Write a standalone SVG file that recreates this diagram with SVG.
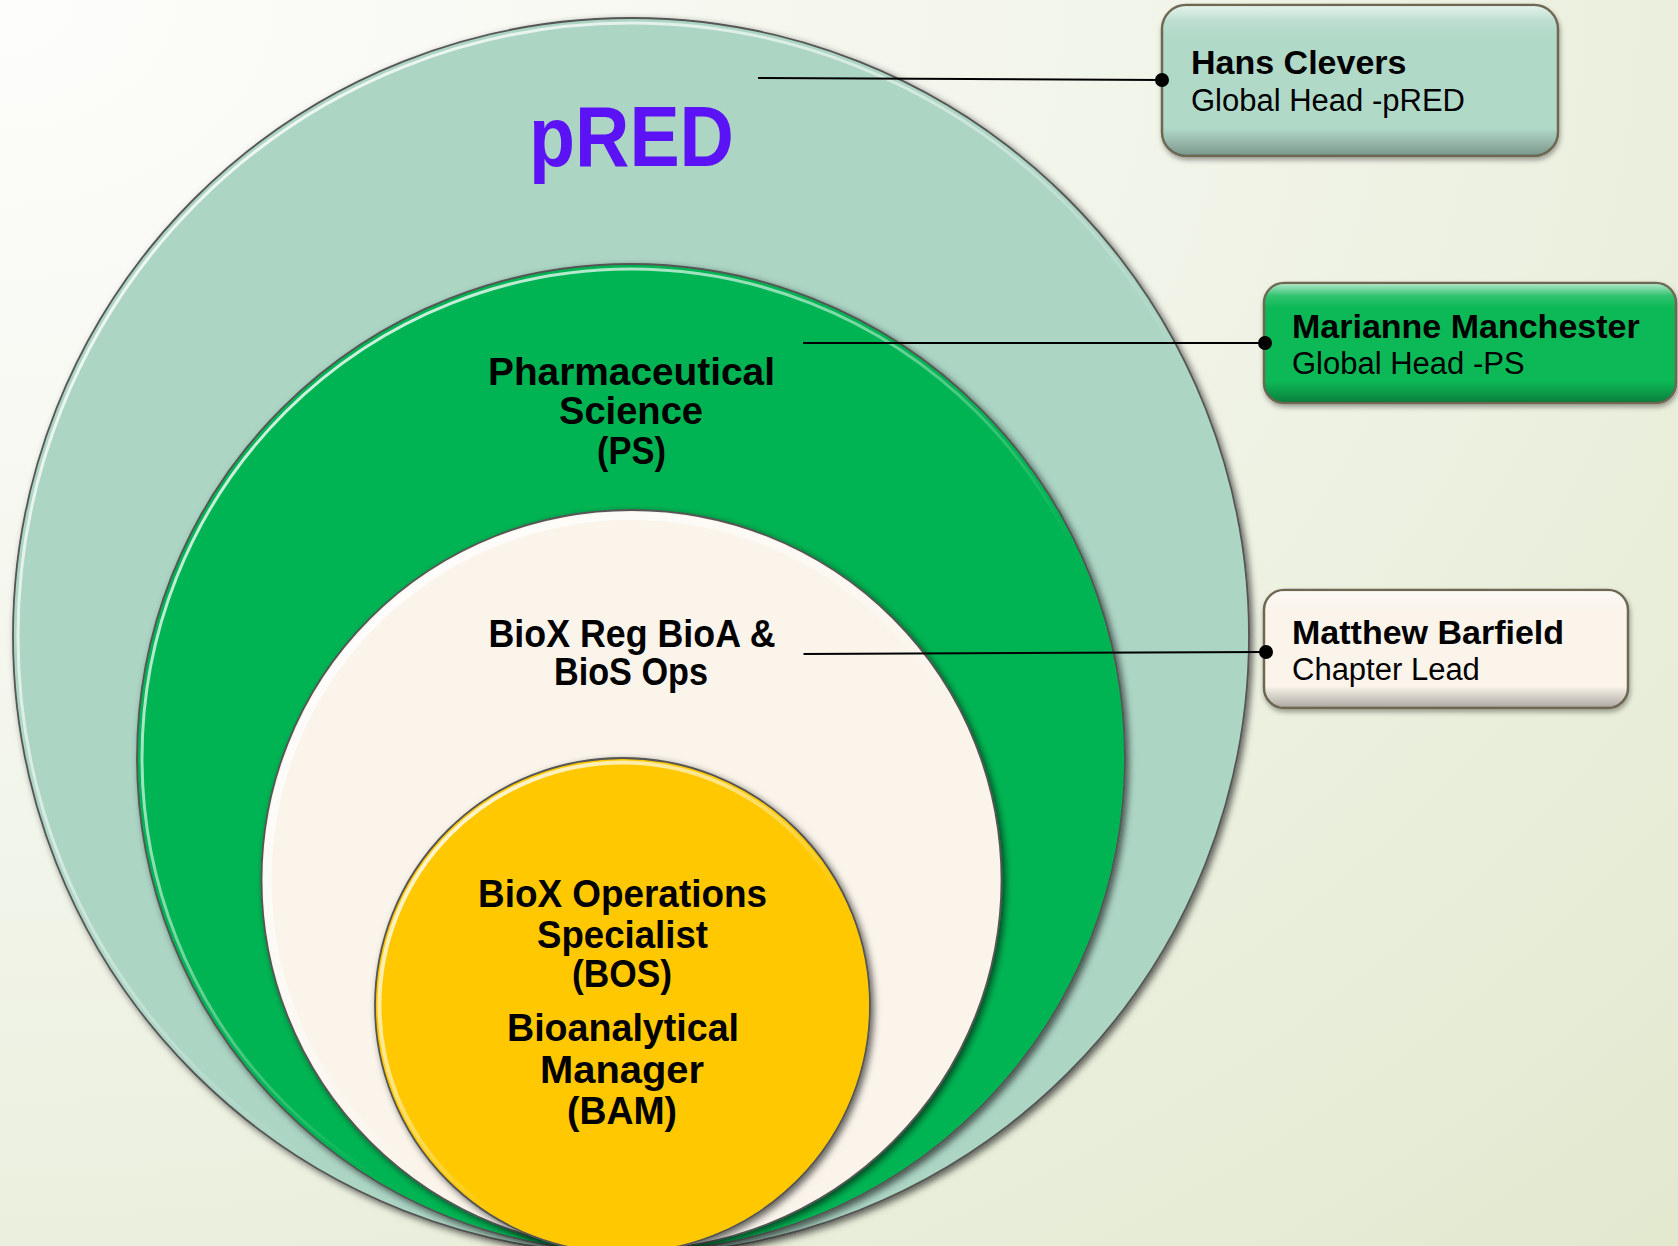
<svg xmlns="http://www.w3.org/2000/svg" width="1678" height="1246" viewBox="0 0 1678 1246">
  <defs>
    <radialGradient id="bg" cx="0" cy="0" r="1.45" gradientUnits="objectBoundingBox">
      <stop offset="0" stop-color="#fdfdfb"/>
      <stop offset="0.45" stop-color="#f2f5ea"/>
      <stop offset="1" stop-color="#e1e8cd"/>
    </radialGradient>
    <linearGradient id="rim" x1="0.1" y1="0.05" x2="0.6" y2="0.6">
      <stop offset="0" stop-color="#ffffff" stop-opacity="0.9"/>
      <stop offset="0.55" stop-color="#ffffff" stop-opacity="0.5"/>
      <stop offset="1" stop-color="#ffffff" stop-opacity="0"/>
    </linearGradient>
    <linearGradient id="bevel" x1="0" y1="0" x2="0" y2="1">
      <stop offset="0" stop-color="#ffffff" stop-opacity="0.65"/>
      <stop offset="0.1" stop-color="#ffffff" stop-opacity="0.15"/>
      <stop offset="0.2" stop-color="#ffffff" stop-opacity="0"/>
      <stop offset="0.82" stop-color="#000000" stop-opacity="0"/>
      <stop offset="1" stop-color="#000000" stop-opacity="0.3"/>
    </linearGradient>
    <filter id="shadow" x="-10%" y="-10%" width="125%" height="125%">
      <feDropShadow dx="3" dy="3" stdDeviation="3.5" flood-color="#000" flood-opacity="0.6"/>
    </filter>
    <filter id="bshadow" x="-10%" y="-10%" width="125%" height="135%">
      <feDropShadow dx="1" dy="3" stdDeviation="2.5" flood-color="#000" flood-opacity="0.35"/>
    </filter>
    <style>
      .ring { stroke: #555555; stroke-width: 1.8; filter: url(#shadow); }
      .hl { fill: none; stroke: url(#rim); }
      .ct { font-family: "Liberation Sans", Arial, sans-serif; font-weight: bold; font-size: 38px; fill: #000; text-anchor: middle; }
      .box { stroke: #6e6852; stroke-width: 2.5; filter: url(#bshadow); }
      .bev { fill: url(#bevel); stroke: none; }
      .bn { font-family: "Liberation Sans", Arial, sans-serif; font-weight: bold; font-size: 34px; fill: #000; }
      .br { font-family: "Liberation Sans", Arial, sans-serif; font-size: 31px; fill: #000; }
      .conn line { stroke: #000; stroke-width: 2; }
      .conn circle { fill: #000; }
    </style>
  </defs>

  <rect x="0" y="0" width="1678" height="1246" fill="url(#bg)"/>

  <g id="pred">
    <circle class="ring" cx="631" cy="636" r="618" fill="#acd5c4"/>
    <circle class="hl" cx="631" cy="636" r="613" stroke-width="3"/>
    <text x="631.5" y="166" font-family="'Liberation Sans', Arial, sans-serif" font-weight="bold" font-size="85" fill="#5b12f5" text-anchor="middle" textLength="205" lengthAdjust="spacingAndGlyphs">pRED</text>
  </g>

  <g id="ps">
    <circle class="ring" cx="631" cy="758" r="494" fill="#00b452"/>
    <circle class="hl" cx="631" cy="758" r="489" stroke-width="3"/>
    <text class="ct" x="631.5" y="385" textLength="287" lengthAdjust="spacingAndGlyphs">Pharmaceutical</text>
    <text class="ct" x="631" y="424" textLength="144" lengthAdjust="spacingAndGlyphs">Science</text>
    <text class="ct" x="631.5" y="464" textLength="69" lengthAdjust="spacingAndGlyphs">(PS)</text>
  </g>

  <g id="biox">
    <circle class="ring" cx="631.5" cy="880" r="370" fill="#faf4ea"/>
    <circle class="hl" cx="631.5" cy="880" r="364" stroke-width="8"/>
    <text class="ct" x="632" y="647" textLength="287" lengthAdjust="spacingAndGlyphs">BioX Reg BioA &amp;</text>
    <text class="ct" x="631" y="685" textLength="154" lengthAdjust="spacingAndGlyphs">BioS Ops</text>
  </g>

  <g id="bos">
    <circle class="ring" cx="622.5" cy="1005.5" r="247.5" fill="#ffc800"/>
    <circle class="hl" cx="622.5" cy="1005.5" r="243" stroke-width="4"/>
    <text class="ct" x="622.5" y="907" textLength="289" lengthAdjust="spacingAndGlyphs">BioX Operations</text>
    <text class="ct" x="622.5" y="948" textLength="171" lengthAdjust="spacingAndGlyphs">Specialist</text>
    <text class="ct" x="622" y="987" textLength="100" lengthAdjust="spacingAndGlyphs">(BOS)</text>
    <text class="ct" x="623" y="1041" textLength="232" lengthAdjust="spacingAndGlyphs">Bioanalytical</text>
    <text class="ct" x="622" y="1083" textLength="164" lengthAdjust="spacingAndGlyphs">Manager</text>
    <text class="ct" x="622" y="1124" textLength="110" lengthAdjust="spacingAndGlyphs">(BAM)</text>
  </g>

  <g id="box-hans">
    <rect class="box" x="1162" y="5" width="396" height="151" rx="24" fill="#b1d9c8"/>
    <rect class="bev" x="1163" y="6" width="394" height="149" rx="23"/>
    <text class="bn" x="1191" y="74">Hans Clevers</text>
    <text class="br" x="1191" y="111">Global Head -pRED</text>
  </g>

  <g id="box-marianne">
    <rect class="box" x="1264" y="283" width="412" height="120" rx="20" fill="#08b957"/>
    <rect class="bev" x="1265" y="284" width="410" height="118" rx="19"/>
    <text class="bn" x="1292" y="338">Marianne Manchester</text>
    <text class="br" x="1292" y="374">Global Head -PS</text>
  </g>

  <g id="box-matthew">
    <rect class="box" x="1264" y="590" width="364" height="118" rx="20" fill="#faf4ea"/>
    <rect class="bev" x="1265" y="591" width="362" height="116" rx="19"/>
    <text class="bn" x="1292" y="644">Matthew Barfield</text>
    <text class="br" x="1292" y="680">Chapter Lead</text>
  </g>

  <g id="connectors" class="conn">
    <line x1="758" y1="78" x2="1162" y2="80"/>
    <circle cx="1162" cy="80" r="7"/>
    <line x1="803" y1="343" x2="1265" y2="343"/>
    <circle cx="1265" cy="343" r="7"/>
    <line x1="803.5" y1="654" x2="1266" y2="652"/>
    <circle cx="1266" cy="652" r="7"/>
  </g>
</svg>
